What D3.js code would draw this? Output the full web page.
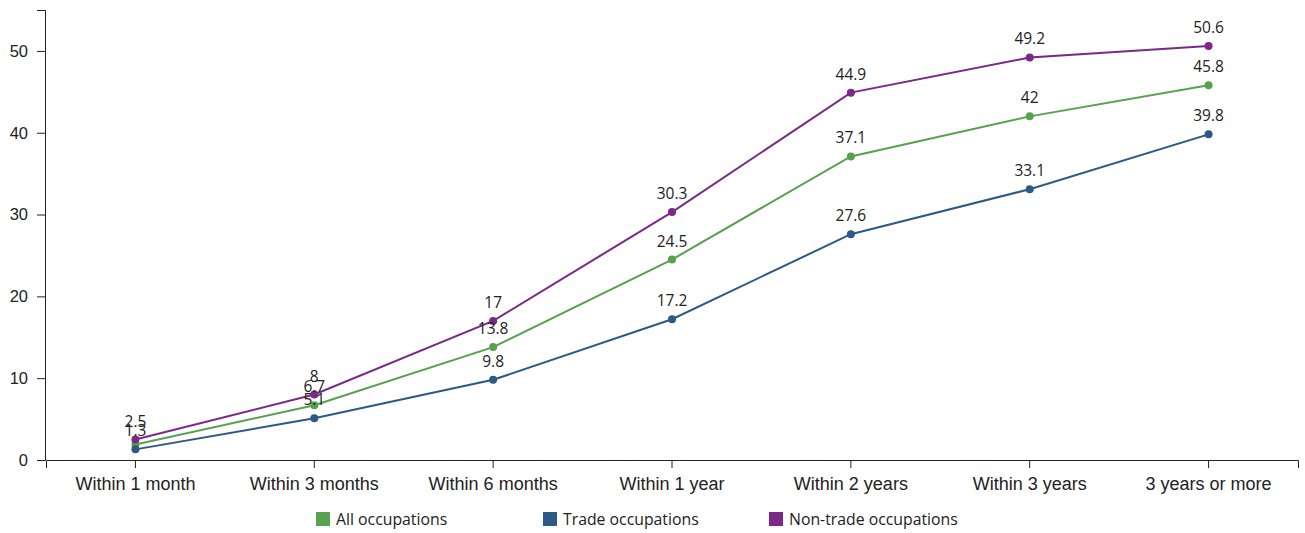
<!DOCTYPE html>
<html>
<head>
<meta charset="utf-8">
<script src="https://cdnjs.cloudflare.com/ajax/libs/d3/7.8.5/d3.min.js"></script>
<style>
  html, body { margin: 0; padding: 0; background: #fff; }
  svg { display: block; font-family: "Open Sans", "Noto Sans", sans-serif; }
</style>
</head>
<body>
<svg id="chart" width="1305" height="533"></svg>
<script>
// Share of apprentices reaching each milestone, by occupation group (%)
const categories = ["Within 1 month", "Within 3 months", "Within 6 months", "Within 1 year", "Within 2 years", "Within 3 years", "3 years or more"];
const allOccupations = [1.9, 6.7, 13.8, 24.5, 37.1, 42, 45.8];
const tradeOccupations = [1.3, 5.1, 9.8, 17.2, 27.6, 33.1, 39.8];
const nonTradeOccupations = [2.5, 8, 17, 30.3, 44.9, 49.2, 50.6];
const yTicks = [0, 10, 20, 30, 40, 50];

const seriesNames = ["All occupations", "Trade occupations", "Non-trade occupations"];
const seriesColors = ["#58a14e", "#2c5985", "#7b2889"];
// labels suppressed where they would collide with a neighbour
const hiddenLabels = [[0], [], []];

const series = [allOccupations, tradeOccupations, nonTradeOccupations].map((values, i) => ({
  name: seriesNames[i], color: seriesColors[i], values, hidden: hiddenLabels[i]
}));

const svg = d3.select("#chart");
const margin = { left: 46, right: 7, top: 10, bottom: 73 };
const W = 1305, H = 533;

const x = d3.scaleBand().domain(categories).range([margin.left, W - margin.right]);
const y = d3.scaleLinear().domain([0, 55]).range([H - margin.bottom, margin.top]);
const cx = c => x(c) + x.bandwidth() / 2;

// x axis: outer ticks at band edges, inner ticks at category centres
const xAxis = svg.append("g").attr("transform", `translate(0,${y(0)})`)
  .call(d3.axisBottom(x).tickSizeInner(8).tickSizeOuter(8).tickPadding(9));
xAxis.selectAll("text").attr("font-size", 18).attr("fill", "#222");
xAxis.selectAll("line, path").attr("stroke", "#222");

const yAxis = svg.append("g").attr("transform", `translate(${margin.left - 1},0)`)
  .call(d3.axisLeft(y).tickValues(yTicks).tickSizeInner(8).tickSizeOuter(8).tickPadding(9).tickFormat(d3.format("d")));
yAxis.selectAll("text").attr("font-size", 16.5).attr("fill", "#222");
yAxis.selectAll("line, path").attr("stroke", "#222");

const line = d3.line().x((d, i) => cx(categories[i])).y(d => y(d));

series.forEach(s => {
  const g = svg.append("g");
  g.append("path").datum(s.values).attr("d", line)
    .attr("fill", "none").attr("stroke", s.color).attr("stroke-width", 2);
  g.selectAll("circle").data(s.values).join("circle")
    .attr("cx", (d, i) => cx(categories[i])).attr("cy", d => y(d))
    .attr("r", 4).attr("fill", s.color);
});

// value labels drawn after all lines so they sit on top
series.forEach(s => {
  svg.append("g").selectAll("text")
    .data(s.values.map((v, i) => ({ v, i })).filter(d => !s.hidden.includes(d.i)))
    .join("text")
    .attr("x", d => cx(categories[d.i]))
    .attr("y", d => y(d.v) - 13)
    .attr("text-anchor", "middle")
    .attr("font-size", 15.5).attr("fill", "#222")
    .text(d => d.v);
});

// legend
const legendX = [316, 543, 769];
const legend = svg.append("g");
series.forEach((s, i) => {
  legend.append("rect").attr("x", legendX[i]).attr("y", 512).attr("width", 14).attr("height", 14).attr("fill", s.color);
  legend.append("text").attr("x", legendX[i] + 20).attr("y", 525)
    .attr("font-size", 15.8).attr("fill", "#222").text(s.name);
});
</script>
</body>
</html>
